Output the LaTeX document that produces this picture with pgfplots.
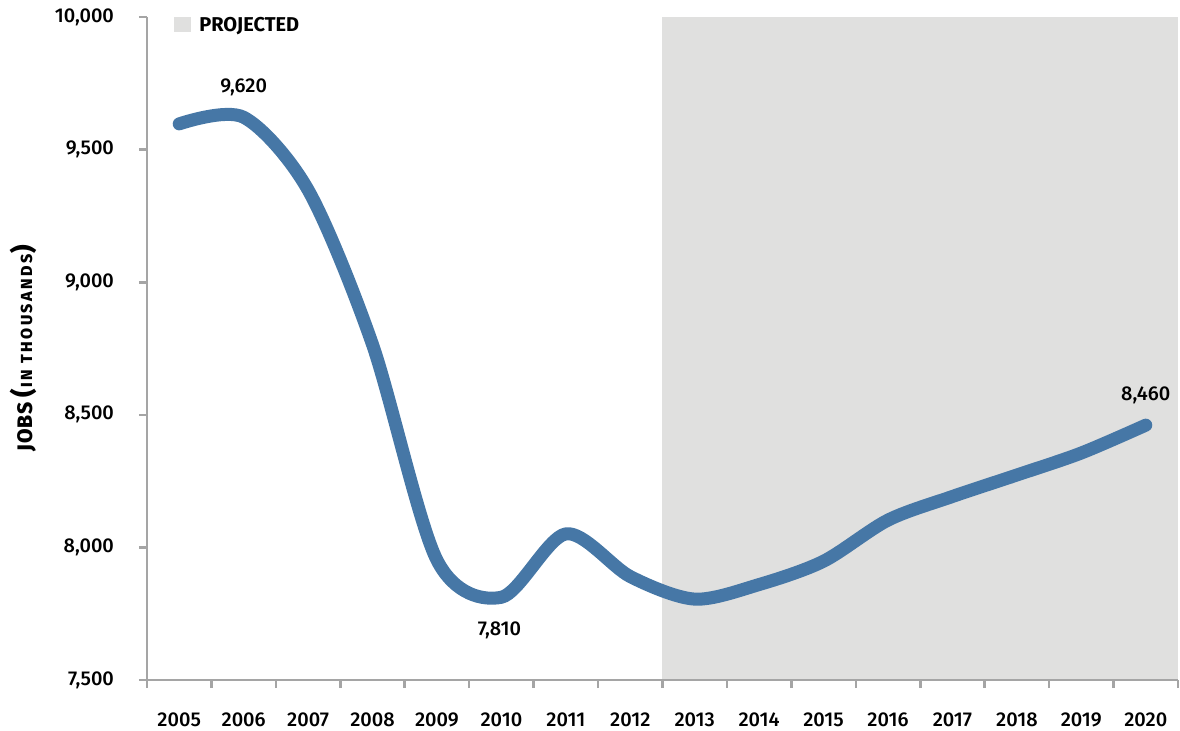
\documentclass[border=0pt]{standalone}
\usepackage{pgfplots}
\pgfplotsset{compat=1.18}
\usepackage{fontspec}
\setmainfont{Fira Sans}[UprightFont={* Medium},BoldFont={* Bold}]
\newfontfamily\lblfont{Fira Sans ExtraBold}[LetterSpace=5]
\newfontfamily\lblsmall{Fira Sans ExtraBold}[LetterSpace=15]

\definecolor{lineblue}{HTML}{4677A6}
\definecolor{axisgray}{HTML}{A5A5A5}
\definecolor{projgray}{HTML}{E0E0DF}

\begin{document}
\begin{tikzpicture}
\begin{axis}[
  scale only axis,
  width=515.5pt, height=331.5pt,
  xmin=-0.5, xmax=15.5,
  ymin=7500, ymax=10000,
  axis x line*=bottom, axis y line*=left,
  axis line style={draw=axisgray, line width=1.3pt, -},
  axis on top,
  clip=false,
  xtick={-0.5,0.5,...,15.5},
  xticklabels={2005,2006,2007,2008,2009,2010,2011,2012,2013,2014,2015,2016,2017,2018,2019,2020},
  x tick label as interval,
  ytick={7500,8000,...,10000},
  tick align=outside,
  major tick length=4pt,
  tick style={draw=axisgray, line width=1.3pt},
  scaled y ticks=false,
  /pgf/number format/.cd, 1000 sep={,}, assume math mode=true,
  /pgfplots/.cd,
  ticklabel style={font=\fontsize{10}{12}\selectfont},
  xticklabel style={yshift=-9pt},
  yticklabel style={xshift=-9pt},
  ylabel={{\lblfont\fontsize{10.5}{12}\selectfont JOBS}\hspace{2.5pt}{\lblfont\fontsize{13}{13}\selectfont(}\hspace{1pt}{\lblsmall\fontsize{8}{9}\selectfont IN THOUSANDS}\hspace{0.5pt}{\lblfont\fontsize{13}{13}\selectfont)}},
  ylabel style={at={(rel axis cs:0,0.5)}, anchor=center, yshift=62pt},
]
% projected region
\addplot[fill=projgray, draw=none] coordinates {(7.5,7500) (15.5,7500) (15.5,10000) (7.5,10000)} -- cycle;

\addplot[color=lineblue, line width=6.5pt, smooth, line cap=round, line join=round, no markers] coordinates {
  (0,9597) (1,9622) (2,9348) (3,8765) (4,7952) (5,7812) (6,8051) (7,7890)
  (8,7805) (9,7860) (10,7948) (11,8103) (12,8192) (13,8273) (14,8356) (15,8461)
};

\node[font=\fontsize{10}{12}\selectfont] at (axis cs:1,9736) {9,620};
\node[font=\fontsize{10}{12}\selectfont] at (axis cs:4.97,7689) {7,810};
\node[font=\fontsize{10}{12}\selectfont] at (axis cs:15,8575) {8,460};

% legend
\coordinate (tl) at (rel axis cs:0,1);
\fill[projgray] ([xshift=13.5pt]tl) rectangle ([xshift=22pt,yshift=-7.5pt]tl);
\node[anchor=west, inner sep=0pt, font=\fontsize{10}{12}\selectfont\bfseries] at ([xshift=26pt,yshift=-4.6pt]tl) {PROJECTED};

% x axis line extends slightly left of the y axis
\draw[axisgray, line width=1.3pt] ([xshift=-3.5pt]rel axis cs:0,0) -- (rel axis cs:0,0);
\end{axis}
\pgfresetboundingbox
\useasboundingbox (-73.5pt,-25pt) rectangle (516.5pt,340pt);
\end{tikzpicture}
\end{document}
